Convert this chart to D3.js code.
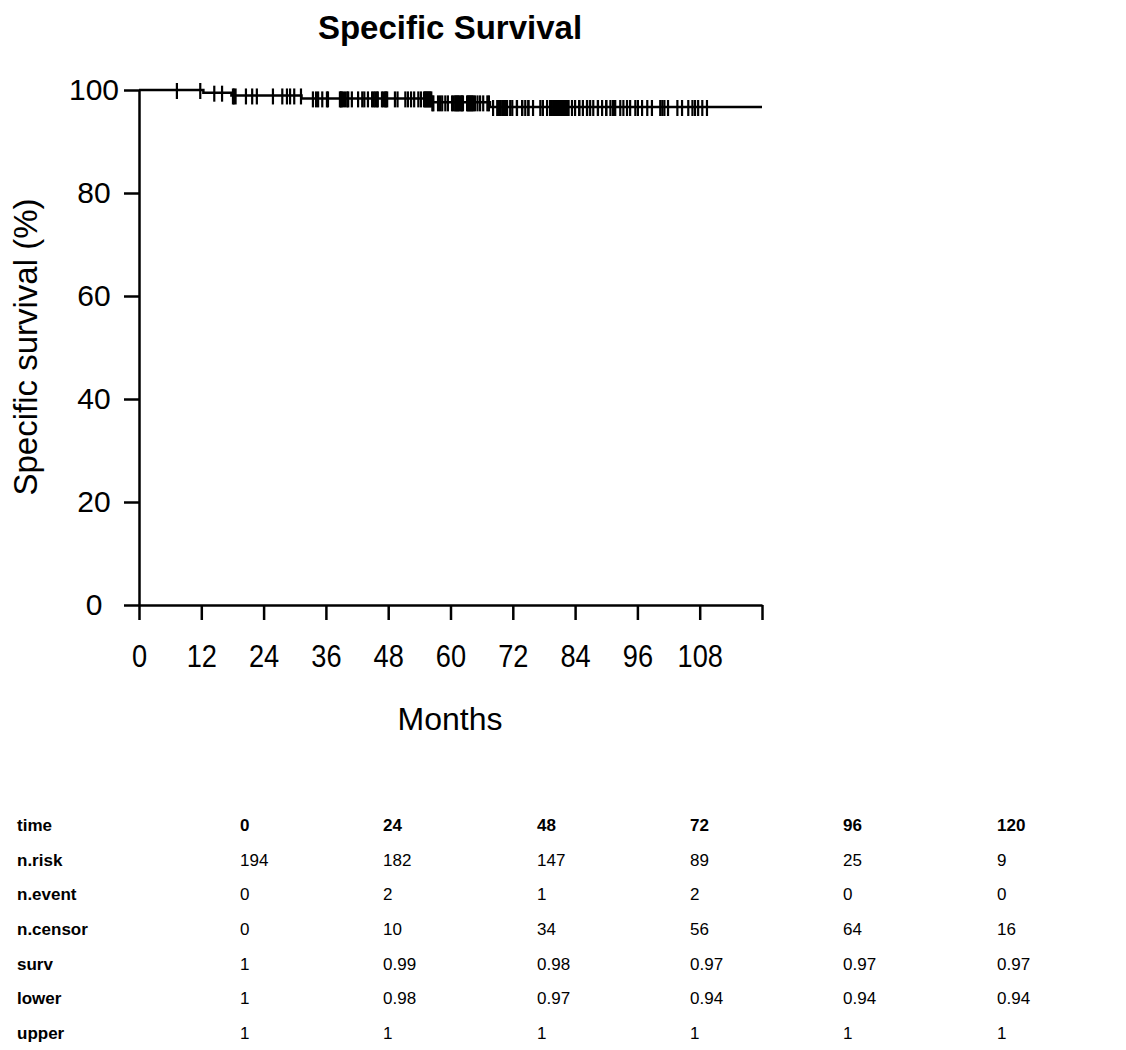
<!DOCTYPE html>
<html>
<head>
<meta charset="utf-8">
<script src="https://cdn.jsdelivr.net/npm/d3@7"></script>
<style>
body { margin: 0; background: #fff; }
svg text { font-family: Arial, "Liberation Sans", sans-serif; fill: #000; }
</style>
</head>
<body>
<svg id="main_svg" width="1126" height="1050"></svg>
<script>
// event times (months) and survival (%) right after each event
var eventTimes = [12.4, 17.8, 31.3, 56.4, 67.6];
var eventSurv = [99.48, 98.94, 98.37, 97.6, 96.7];

// censored observations (months), grouped by 24 month window
var censor0 = [7.3, 11.8, 14.5, 16.0, 18.1, 18.3, 18.6, 20.6, 21.8, 22.7];
var censor24 = [25.8, 27.6, 28.5, 29.1, 29.9, 31.2, 33.5, 34.1, 34.5, 35.3,
    36.2, 36.4, 38.7, 38.9, 39.0, 39.3, 39.7, 40.1, 40.3, 41.0,
    42.2, 43.0, 43.4, 44.1, 44.9, 45.2, 45.5, 45.8, 46.0, 46.8,
    47.1, 47.4, 47.6, 47.8];
var censor48 = [49.3, 49.8, 51.3, 51.8, 52.4, 53.0, 53.8, 54.3, 54.9, 55.1,
    55.3, 55.5, 55.7, 55.9, 56.1, 56.3, 56.5, 56.7, 57.6, 58.0,
    58.4, 59.0, 59.5, 60.3, 60.6, 60.9, 61.1, 61.3, 61.5, 61.7,
    62.0, 62.2, 62.4, 63.2, 63.4, 63.6, 63.8, 64.0, 64.2, 64.4,
    64.7, 65.2, 65.7, 66.3, 67.1, 67.4, 68.2, 69.0, 69.2, 69.4,
    69.7, 70.1, 70.5, 70.9, 71.5, 71.9];
var censor72 = [72.8, 73.8, 74.4, 75.0, 75.9, 77.3, 77.8, 78.6, 79.2, 79.5,
    79.8, 79.8, 80.1, 80.1, 80.4, 80.4, 80.7, 80.7, 81.0, 81.0,
    81.3, 81.3, 81.6, 81.6, 81.9, 81.9, 82.2, 82.2, 82.5, 82.5,
    82.7, 82.7, 83.4, 84.0, 84.8, 85.5, 86.3, 86.9, 87.5, 88.4,
    89.2, 90.0, 90.8, 91.3, 91.7, 92.7, 93.3, 94.0, 94.6, 95.6,
    72.8, 73.8, 75.0, 77.8, 79.2, 80.1, 81.0, 81.6, 82.2, 84.8,
    86.3, 88.4, 90.0, 91.7];
var censor96 = [96.1, 96.9, 97.9, 98.8, 100.4, 100.8, 101.2, 101.9, 103.7, 104.6,
    105.8, 106.6, 107.1, 107.7, 108.5, 109.4];

var xTicks = [0, 12, 24, 36, 48, 60, 72, 84, 96, 108, 120];
var yTicks = [0, 20, 40, 60, 80, 100];

// risk table
var tableRows = ["time", "n.risk", "n.event", "n.censor", "surv", "lower", "upper"];
var tableTimes = ["0", "24", "48", "72", "96", "120"];
var nRisk = ["194", "182", "147", "89", "25", "9"];
var nEvent = ["0", "2", "1", "2", "0", "0"];
var nCensor = ["0", "10", "34", "56", "64", "16"];
var survCol = ["1", "0.99", "0.98", "0.97", "0.97", "0.97"];
var lowerCol = ["1", "0.98", "0.97", "0.94", "0.94", "0.94"];
var upperCol = ["1", "1", "1", "1", "1", "1"];

var svg = d3.select("#main_svg");

var x = d3.scaleLinear().domain([0, 120]).range([139, 762]);
var y = d3.scaleLinear().domain([0, 100]).range([605, 90]);

drawAxes();
drawCurve();
drawTable();

function drawAxes() {
    svg.append("text")
        .attr("x", 450)
        .attr("y", 39)
        .attr("text-anchor", "middle")
        .attr("font-size", 33)
        .attr("font-weight", "bold")
        .text("Specific Survival");

    var xAxis = svg.append("g")
        .attr("transform", "translate(0," + y(0) + ")")
        .call(d3.axisBottom(x)
            .tickValues(xTicks)
            .tickSize(15)
            .tickSizeOuter(0)
            .tickPadding(24)
            .tickFormat(function(d) { return d == 120 ? "" : d; }));

    var yAxis = svg.append("g")
        .attr("transform", "translate(" + x(0) + ",0)")
        .call(d3.axisLeft(y)
            .tickValues(yTicks)
            .tickSize(15)
            .tickSizeOuter(0));

    [xAxis, yAxis].forEach(function(g) {
        g.select(".domain").attr("stroke", "#000").attr("stroke-width", 2.5);
        g.selectAll(".tick line").attr("stroke", "#000").attr("stroke-width", 2.5);
        g.selectAll(".tick text")
            .attr("fill", "#000")
            .style("font-family", "Arial, 'Liberation Sans', sans-serif");
    });

    // x labels look tall and narrow in the original
    xAxis.selectAll(".tick text")
        .attr("font-size", 32)
        .attr("transform", "scale(0.85,1)");

    // y labels are centred in the gutter
    yAxis.selectAll(".tick text")
        .attr("font-size", 30)
        .attr("text-anchor", "middle")
        .attr("x", -45);

    svg.append("text")
        .attr("x", 450)
        .attr("y", 730)
        .attr("text-anchor", "middle")
        .attr("font-size", 32)
        .text("Months");

    svg.append("text")
        .attr("transform", "translate(37,347) rotate(-90)")
        .attr("text-anchor", "middle")
        .attr("font-size", 33)
        .text("Specific survival (%)");
}

function survAt(t) {
    var i = d3.bisectRight(eventTimes, t);
    return i == 0 ? 100 : eventSurv[i - 1];
}

function drawCurve() {
    var pts = [[0, 100]];
    eventTimes.forEach(function(t, i) {
        pts.push([t, eventSurv[i]]);
    });
    pts.push([120, eventSurv[eventSurv.length - 1]]);

    var line = d3.line()
        .x(function(d) { return x(d[0]); })
        .y(function(d) { return y(d[1]); })
        .curve(d3.curveStepAfter);

    svg.append("path")
        .datum(pts)
        .attr("fill", "none")
        .attr("stroke", "#000")
        .attr("stroke-width", 2.5)
        .attr("d", line);

    var censored = censor0.concat(censor24, censor48, censor72, censor96);

    svg.append("g")
        .attr("id", "censor")
        .selectAll("line")
        .data(censored)
        .enter()
        .append("line")
        .attr("x1", function(d) { return x(d); })
        .attr("x2", function(d) { return x(d); })
        .attr("y1", function(d) { return y(survAt(d)) - 7; })
        .attr("y2", function(d) { return y(survAt(d)) + 9; })
        .attr("stroke", "#000")
        .attr("stroke-width", 2.2);
}

function drawTable() {
    var cols = [tableTimes, nRisk, nEvent, nCensor, survCol, lowerCol, upperCol];
    var colX = [240, 383, 537, 690, 843, 997];
    var rowY = d3.scalePoint().domain(tableRows).range([825, 1033]);

    var rows = svg.append("g")
        .attr("id", "table")
        .selectAll("g")
        .data(tableRows)
        .enter()
        .append("g")
        .attr("transform", function(d) { return "translate(0," + rowY(d) + ")"; });

    rows.append("text")
        .attr("x", 17)
        .attr("dy", "0.35em")
        .attr("font-size", 17)
        .attr("font-weight", "bold")
        .text(function(d) { return d; });

    rows.each(function(d, i) {
        d3.select(this).selectAll("text.val")
            .data(cols[i])
            .enter()
            .append("text")
            .attr("class", "val")
            .attr("x", function(v, j) { return colX[j]; })
            .attr("dy", "0.35em")
            .attr("font-size", 17)
            .attr("font-weight", i == 0 ? "bold" : "normal")
            .text(function(v) { return v; });
    });
}
</script>
</body>
</html>
